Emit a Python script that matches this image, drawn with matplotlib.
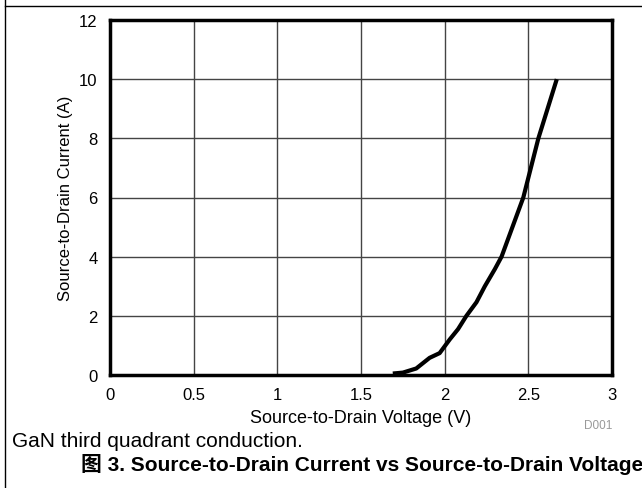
import matplotlib
matplotlib.use('Agg')
import matplotlib.pyplot as plt
from matplotlib.lines import Line2D

# GaN third quadrant conduction curve
voltage = [1.69, 1.75, 1.83, 1.91, 1.97, 2.03, 2.08, 2.13, 2.19, 2.24, 2.30, 2.34, 2.47, 2.56, 2.67]
current = [0.05, 0.08, 0.22, 0.58, 0.74, 1.2, 1.55, 2.0, 2.46, 3.0, 3.58, 4.0, 6.0, 8.0, 10.0]
xticks = [0, 0.5, 1, 1.5, 2, 2.5, 3]
xticklabels = ['0', '0.5', '1', '1.5', '2', '2.5', '3']
yticks = [0, 2, 4, 6, 8, 10, 12]

plt.rcParams['font.family'] = ['Liberation Sans', 'Noto Sans CJK SC', 'DejaVu Sans']

W, H = 642, 489
fig = plt.figure(figsize=(W/100, H/100), dpi=100)
ax = fig.add_axes([110/W, 1-376/H, (612-110)/W, (376-21)/H])

ax.plot(voltage, current, color='black', lw=3, solid_capstyle='butt', zorder=3)
ax.set_xlim(0, 3)
ax.set_ylim(0, 12)
ax.set_xticks(xticks)
ax.set_xticklabels(xticklabels)
ax.set_yticks(yticks)
ax.grid(True, color='#444444', lw=1)
ax.tick_params(axis='both', length=0, labelsize=12)
ax.tick_params(axis='x', pad=9)
ax.tick_params(axis='y', pad=9)
for s in ax.spines.values():
    s.set_linewidth(2.5)
    s.set_color('black')
ax.set_xlabel('Source-to-Drain Voltage (V)', fontsize=13, labelpad=5)
ax.set_ylabel('Source-to-Drain Current (A)', fontsize=12, labelpad=4)

fig.text(584/W, 1-426/H, 'D001', fontsize=8.5, color='#999999', va='center')
fig.text(12/W, 1-442/H, 'GaN third quadrant conduction.', fontsize=15, va='center')
fig.text(81/W, 1-465/H, '图 3. Source-to-Drain Current vs Source-to-Drain Voltage',
         fontsize=15, fontweight='bold', va='center')

# page frame lines
fig.add_artist(Line2D([5/W, 5/W], [0, 1], color='black', lw=1))
fig.add_artist(Line2D([5/W, 1], [1-7/H, 1-7/H], color='black', lw=1))

fig.savefig('out.png', dpi=100)
